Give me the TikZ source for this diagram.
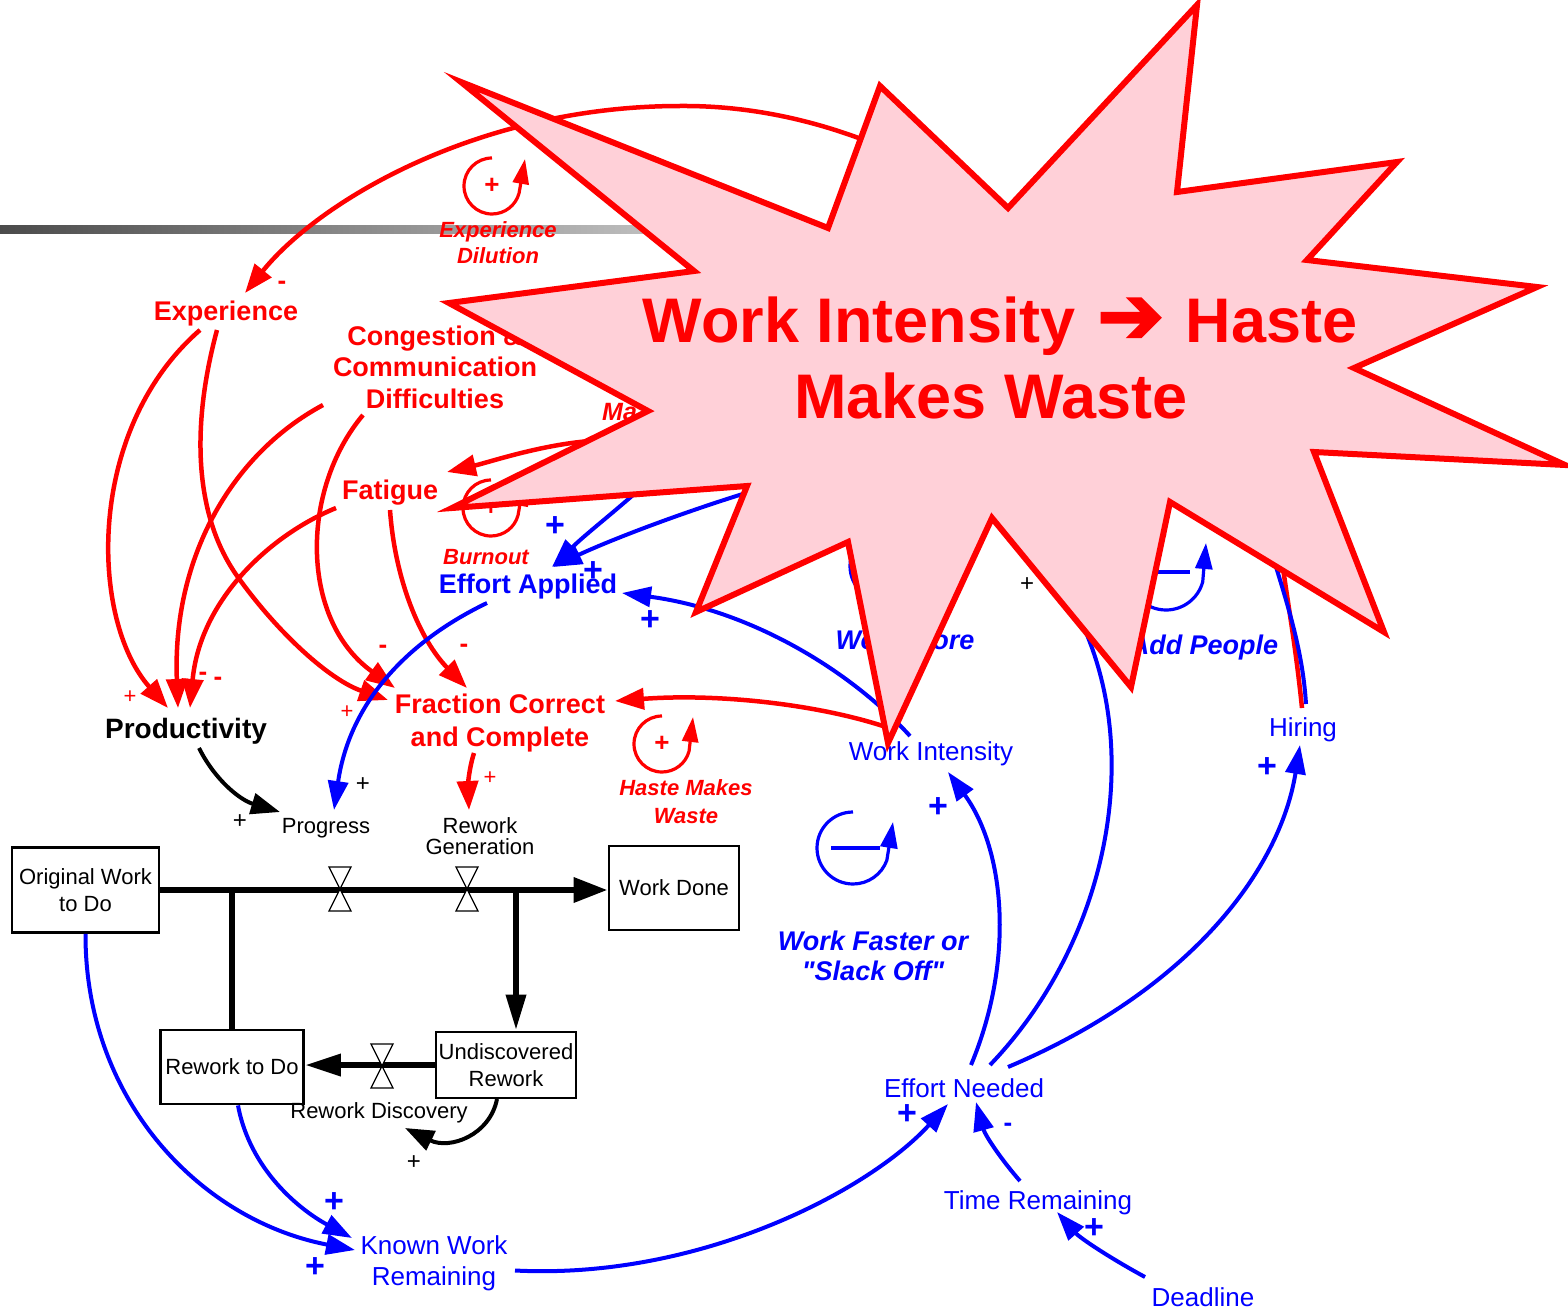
\documentclass[tikz,border=0pt]{standalone}
\usepackage{fontspec}
\setmainfont{Liberation Sans}[Ligatures=TeXOff]
\newfontfamily\djvb{DejaVu Sans}[FakeBold=3]
\usetikzlibrary{arrows.meta}
\definecolor{rd}{RGB}{255,0,0}
\definecolor{bl}{RGB}{0,0,255}
\definecolor{starfill}{RGB}{255,208,216}
\tikzset{
 txt/.style={inner sep=0pt, align=center, text depth=0pt},
 rb/.style={txt, text=rd, font={\fontsize{27}{31.5}\selectfont\bfseries}},
 ri/.style={txt, text=rd, font={\fontsize{22}{26}\selectfont\bfseries\itshape}},
 bb/.style={txt, text=bl, font={\fontsize{27}{31}\selectfont\bfseries}},
 bi/.style={txt, text=bl, font={\fontsize{27}{30}\selectfont\bfseries\itshape}},
 br/.style={txt, text=bl, font={\fontsize{26}{31}\selectfont}},
 kr/.style={txt, text=black, font={\fontsize{22}{21}\selectfont}},
 kb/.style={txt, text=black, font={\fontsize{28}{32}\selectfont\bfseries}},
 stock/.style={draw, line width=2.8pt, inner sep=2pt, align=center, text depth=0pt, font={\fontsize{22}{27}\selectfont}},
 ra/.style={draw=rd, line width=4.5pt, -{Triangle[length=29pt,width=21pt]}},
 ba/.style={draw=bl, line width=4pt, -{Triangle[length=29pt,width=20pt]}},
 bline/.style={draw=bl, line width=4pt},
 ka/.style={draw=black, line width=4pt, -{Triangle[length=29pt,width=21pt]}},
 pipe/.style={draw=black, line width=6.5pt},
 valve/.style={draw=black, fill=white, line width=1.3pt, line join=miter},
 loopr/.style={draw=rd, line width=3.2pt, -{Triangle[length=25pt,width=16pt]}},
 loopb/.style={draw=bl, line width=3.2pt, -{Triangle[length=26pt,width=17pt]}},
 sr/.style={txt, text=rd, font={\fontsize{22}{22}\selectfont}},
 srm/.style={txt, text=rd, font={\fontsize{26}{26}\selectfont\bfseries}},
 srl/.style={txt, text=rd, font={\fontsize{26}{26}\selectfont\bfseries}},
 sb/.style={txt, text=bl, font={\fontsize{34}{34}\selectfont\bfseries}},
 sbm/.style={txt, text=bl, font={\fontsize{26}{26}\selectfont\bfseries}},
 sk/.style={txt, text=black, font={\fontsize{24}{24}\selectfont}},
 starshape/.style={draw=rd, line width=6pt, fill=starfill, line join=miter},
 titletext/.style={txt, text=rd, font={\fontsize{63}{76}\selectfont\bfseries}},
}
\begin{document}
\begin{tikzpicture}[x=1pt,y=-1pt]
\useasboundingbox (0,0) rectangle (1568,1311);
% gray decorative bar
\shade[left color={rgb,255:red,75;green,75;blue,75}, right color=white] (0,225) rectangle (1020,233);

% ---------- variables ----------
\node[rb] (exp) at (226,311) {Experience};
\node[rb] (cong) at (435,367) {Congestion \&\\Communication\\Difficulties};
\node[rb] (fat) at (390,490) {Fatigue};
\node[rb, font={\fontsize{27}{33}\selectfont\bfseries}] (frac) at (500,720.5) {Fraction Correct\\and Complete};
\node[kb] (prod) at (186,728) {Productivity};
\node[bb] (effapp) at (528,584) {Effort Applied};
\node[kr] (prog) at (326,826) {Progress};
\node[kr] (rgen) at (480,836) {Rework\\Generation};
\node[stock, minimum width=147, minimum height=85] (owtd) at (85.5,890) {Original Work\\to Do};
\node[stock, minimum width=130, minimum height=84] (wd) at (674,888) {Work Done};
\node[stock, minimum width=143, minimum height=74] (rtd) at (232,1067) {Rework to Do};
\node[stock, minimum width=140, minimum height=66] (ur) at (506,1065) {Undiscovered\\Rework};
\node[kr] (rdisc) at (379,1111) {Rework Discovery};
\node[br] (kwr) at (434,1260.5) {Known Work\\Remaining};
\node[br] (effneed) at (964,1088) {Effort Needed};
\node[br] (timerem) at (1038,1200) {Time Remaining};
\node[br] (deadline) at (1203,1297) {Deadline};
\node[br] (workint) at (931,751) {Work Intensity};
\node[br] (hiring) at (1303,727) {Hiring};

% ---------- loop labels ----------
\node[ri] (ldil) at (498,243) {Experience\\Dilution};
\node[ri] (lburn) at (486,557) {Burnout};
\node[ri, font={\fontsize{22}{28}\selectfont\bfseries\itshape}] (lhaste) at (686,802) {Haste Makes\\Waste};
\node[ri, anchor=west, font={\fontsize{25}{26}\selectfont\bfseries\itshape}] (lma) at (602,412) {Ma};
\node[bi] (lmore) at (905,640) {Work More};
\node[bi] (ladd) at (1204,645) {Add People};
\node[bi] (lfaster) at (873,956) {Work Faster or\\"Slack Off"};

% ---------- loop symbols ----------
\coordinate (cdil) at (492,186);
\coordinate (cburn) at (491,508);
\coordinate (chaste) at (662,744);
\coordinate (cfast) at (853,848);
\coordinate (cadd) at (1166,572);
\coordinate (cmore) at (886,566);
\draw[loopr] ([shift={(0,-28)}]cdil) arc[start angle=270, end angle=15, radius=28] -- ([shift={(33,-27)}]cdil);
\node[srl] (pdil) at (cdil) {+};
\draw[loopr] ([shift={(0,-28)}]cburn) arc[start angle=270, end angle=15, radius=28] -- ([shift={(33,-27)}]cburn);
\node[srl] (pburn) at (cburn) {+};
\draw[loopr] ([shift={(0,-28)}]chaste) arc[start angle=270, end angle=15, radius=28] -- ([shift={(31,-27)}]chaste);
\node[srl] (phaste) at (chaste) {+};
\draw[loopb] ([shift={(0,-36)}]cfast) arc[start angle=270, end angle=20, radius=36] -- ([shift={(40,-26)}]cfast);
\draw[draw=bl, line width=3.4pt] ([shift={(-22,0)}]cfast) -- ([shift={(27,0)}]cfast);
\draw[loopb] ([shift={(0,-38)}]cadd) arc[start angle=270, end angle=15, radius=38] -- ([shift={(40,-29)}]cadd);
\draw[draw=bl, line width=3.4pt] ([shift={(-22,0)}]cadd) -- ([shift={(24,0)}]cadd);
\draw[loopb] ([shift={(0,-36)}]cmore) arc[start angle=270, end angle=20, radius=36] -- ([shift={(40,-26)}]cmore);
\draw[draw=bl, line width=3.4pt] ([shift={(-22,0)}]cmore) -- ([shift={(27,0)}]cmore);

% ---------- stock and flow ----------
\coordinate (v1) at (340,889);
\coordinate (v2) at (467,889);
\coordinate (v3) at (382,1066);
\draw[pipe] (rtd.north |- owtd.east) -- (rtd.north);
\draw[pipe, -{Triangle[length=36pt,width=19pt]}] ([shift={(10,0)}]ur.north |- owtd.east) -- ([shift={(10,0)}]ur.north);
\draw[pipe, -{Triangle[length=34pt,width=24pt]}] (owtd.east) -- (owtd.east -| wd.west);
\draw[pipe, -{Triangle[length=36pt,width=21pt]}] (ur.west) -- (ur.west -| rtd.east);
\foreach \v in {v1,v2,v3}{
  \draw[valve] ([shift={(-11,-22)}]\v) -- ([shift={(11,-22)}]\v) -- (\v) -- cycle;
  \draw[valve] ([shift={(-11,22)}]\v) -- ([shift={(11,22)}]\v) -- (\v) -- cycle;
}

% ---------- red connectors ----------
\draw[ra] ([shift={(-1,-19)}]hiring.center) .. controls (1295,640) and (1287,600) .. (1282,560)
  .. controls (1270,420) and (1150,290) .. (1000,212)
  .. controls (910,150) and (800,105) .. (680,106)
  .. controls (480,106) and (320,200) .. ([shift={(19,-18)}]exp.center);
\draw[ra] ([shift={(-43,-25)}]workint.center) .. controls (900,660) and (900,560) .. (860,505)
  .. controls (800,450) and (680,440) .. (590,441)
  .. controls (540,445) and (490,462) .. ([shift={(57,-18)}]fat.center);
\draw[ra] ([shift={(-26,19)}]exp.center) .. controls (85,430) and (90,620) .. ([shift={(-18,-20)}]prod.center);
\draw[ra] ([shift={(-9,19)}]exp.center) .. controls (190,430) and (195,520) .. (240,580)
  .. controls (280,635) and (330,680) .. ([shift={(-112,-20.5)}]frac.center);
\draw[ra] ([shift={(-112,38)}]cong.center) .. controls (230,455) and (172,560) .. ([shift={(-8,-20)}]prod.center);
\draw[ra] ([shift={(-72,48)}]cong.center) .. controls (300,490) and (300,620) .. ([shift={(-105,-32.5)}]frac.center);
\draw[ra] ([shift={(-54,18)}]fat.center) .. controls (270,535) and (200,600) .. ([shift={(4,-20)}]prod.center);
\draw[ra] ([shift={(0,20)}]fat.center) .. controls (395,580) and (420,640) .. ([shift={(-33,-32.5)}]frac.center);
\draw[ra] ([shift={(-45,-24)}]workint.center) .. controls (820,705) and (720,693) .. ([shift={(115,-19.5)}]frac.center);
\draw[ra] ([shift={(-26,32.5)}]frac.center) .. controls (468,772) and (468,790) .. ([shift={(-11,-26)}]rgen.center);

% ---------- black connectors ----------
\draw[ka] ([shift={(13,20)}]prod.center) .. controls (215,780) and (240,800) .. ([shift={(-46,-14)}]prog.center);
\draw[ka] ([shift={(-9,34)}]ur.center) .. controls (490,1135) and (450,1150) .. ([shift={(26,17)}]rdisc.center);

% ---------- blue connectors ----------
\coordinate (hidB) at (1070,600);
\coordinate (hidC) at (1262,520);
\coordinate (hidD) at (660,470);
\coordinate (hidE) at (790,480);
\draw[ba] ([shift={(-41,19)}]effapp.center) .. controls (410,640) and (350,700) .. ([shift={(8,-16)}]prog.center);
\draw[ba] ([shift={(-21,-15)}]workint.center) .. controls (850,670) and (750,610) .. ([shift={(94,9)}]effapp.center);
\draw[ba] ([shift={(7,-23)}]effneed.center) .. controls (1015,960) and (1005,850) .. ([shift={(17,21)}]workint.center);
\draw[bline] ([shift={(26,-23)}]effneed.center) .. controls (1110,940) and (1150,740) .. (hidB);
\draw[ba] ([shift={(44,-21)}]effneed.center) .. controls (1190,990) and (1280,870) .. ([shift={(-3,18)}]hiring.center);
\draw[bline] ([shift={(3,-23)}]hiring.center) .. controls (1302,640) and (1282,590) .. (hidC);
\draw[ba] ([shift={(81,10)}]kwr.center) .. controls (700,1280) and (870,1190) .. ([shift={(-16,16)}]effneed.center);
\draw[ba] ([shift={(-18,-19)}]timerem.center) .. controls (1000,1158) and (985,1135) .. ([shift={(12,14)}]effneed.center);
\draw[ba] ([shift={(-58,-20)}]deadline.center) .. controls (1110,1258) and (1080,1238) .. ([shift={(19,12)}]timerem.center);
\draw[ba] (owtd.south) .. controls (85,1100) and (200,1220) .. ([shift={(-79,-10.5)}]kwr.center);
\draw[ba] ([shift={(6,0)}]rtd.south) .. controls (250,1170) and (300,1210) .. ([shift={(-82,-22.5)}]kwr.center);
\draw[ba] (hidD) .. controls (630,500) and (590,530) .. ([shift={(24,-17)}]effapp.center);
\draw[ba] (hidE) .. controls (700,505) and (610,540) .. ([shift={(25,-17)}]effapp.center);

% ---------- polarity signs ----------
\node[srm] (s1) at (282,285) {-};
\node[sr] (s2) at (130,697) {+};
\node[srm] (s3) at (203,676) {-};
\node[srm] (s4) at (218,681) {-};
\node[srm] (s5) at (383,649) {-};
\node[srm] (s6) at (464,648) {-};
\node[sr] (s7) at (347,712) {+};
\node[sr] (s8) at (490,778) {+};
\node[sb] (b1) at (555,527) {+};
\node[sb] (b2) at (593,572) {+};
\node[sb] (b3) at (650,621) {+};
\node[sb] (b4) at (938,808) {+};
\node[sb] (b5) at (907,1115) {+};
\node[sbm] (b6) at (1008,1127) {-};
\node[sb] (b7) at (1094,1229) {+};
\node[sb] (b8) at (1267,768) {+};
\node[sb] (b9) at (315,1268) {+};
\node[sb] (b10) at (334,1203) {+};
\node[sk] (k1) at (240,822) {+};
\node[sk] (k2) at (363,785) {+};
\node[sk] (k3) at (414,1163) {+};
\node[sk] (k4) at (1027,585) {+};

% ---------- starburst ----------
\filldraw[starshape] (461,82) -- (828,228) -- (880,86) -- (1008,208) -- (1197,5) -- (1177,192)
  -- (1397,162) -- (1307,260) -- (1537,287) -- (1354,368) -- (1565,465) -- (1314,452)
  -- (1384,632) -- (1170,502) -- (1131,687) -- (992,518) -- (888,743) -- (848,542)
  -- (696,612) -- (747,486) -- (452,508) -- (648,411) -- (449,303) -- (694,271) -- cycle;
\node[titletext] (title) at (1000,358) {Work Intensity\hspace{4pt} {\djvb\mdseries\fontsize{80}{76}\selectfont ➔}\hspace{4pt} Haste\\Makes Waste\hspace*{18pt}};
\end{tikzpicture}
\end{document}
